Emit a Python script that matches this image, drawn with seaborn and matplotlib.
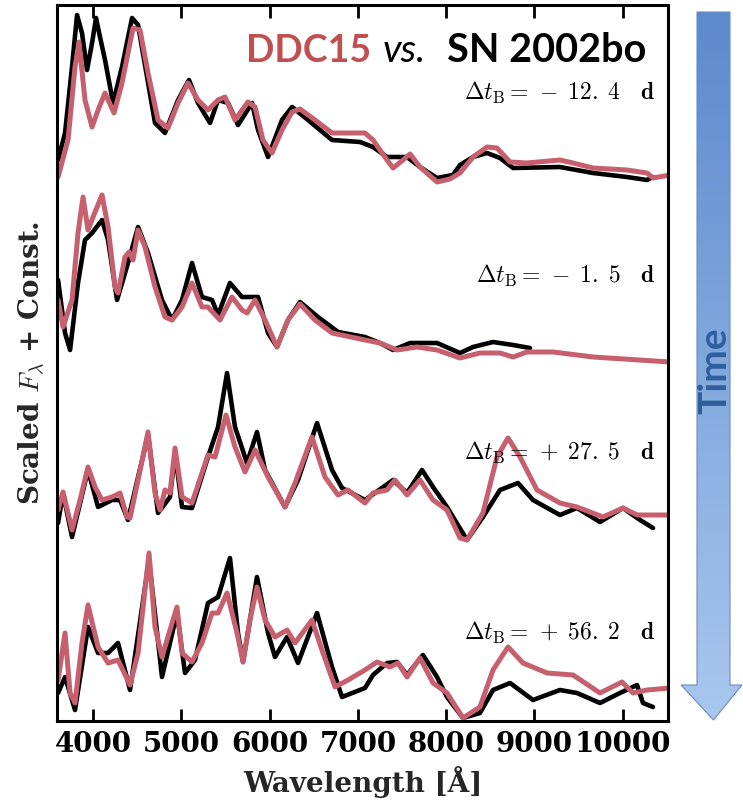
import numpy as np
import matplotlib
matplotlib.use("Agg")
import matplotlib.pyplot as plt
import seaborn as sns
from matplotlib.patches import Polygon
from matplotlib.colors import LinearSegmentedColormap

# ---------------- data (wavelength in Angstrom, scaled flux) ----------------
wave_obs_1 = [3604, 3683, 3762, 3819, 3875, 3932, 3989, 4034, 4079, 4136, 4227, 4328, 4442, 4510, 4612, 4702,
              4815, 4963, 5087, 5189, 5325, 5416, 5529, 5642, 5801, 5869, 5982, 6140, 6254, 6435, 6707, 7024,
              7171, 7330, 7556, 7703, 7896, 8077, 8156, 8304, 8462, 8609, 8757, 9288, 9663, 10047, 10274, 10342]
flux_obs_1 = [0.21, 0.48, 1.14, 1.66, 1.48, 1.11, 1.38, 1.63, 1.44, 1.21, 0.78, 1.14, 1.63, 1.56, 1.04, 0.58,
              0.48, 0.81, 1.01, 0.78, 0.58, 0.81, 0.78, 0.56, 0.78, 0.51, 0.24, 0.61, 0.74, 0.61, 0.41, 0.39,
              0.34, 0.24, 0.24, 0.14, 0.03, 0.06, 0.16, 0.24, 0.28, 0.23, 0.13, 0.14, 0.08, 0.04, 0.01, 0.04]
wave_mod_1 = [3604, 3717, 3796, 3841, 3909, 3989, 4057, 4136, 4238, 4328, 4453, 4532, 4623, 4736, 4849, 4963,
              5076, 5189, 5302, 5416, 5495, 5608, 5755, 5835, 5925, 6027, 6140, 6254, 6344, 6514, 6707, 6967,
              7080, 7171, 7330, 7398, 7511, 7590, 7703, 7896, 8043, 8156, 8304, 8462, 8575, 8723, 8915, 9288,
              9436, 9663, 10047, 10274, 10342, 10535]
flux_mod_1 = [0.04, 0.41, 1.14, 1.39, 0.81, 0.54, 0.71, 0.88, 0.68, 0.98, 1.53, 1.51, 1.08, 0.61, 0.53, 0.78,
              0.98, 0.81, 0.71, 0.81, 0.84, 0.61, 0.79, 0.74, 0.41, 0.28, 0.51, 0.69, 0.72, 0.61, 0.48, 0.48,
              0.48, 0.41, 0.21, 0.13, 0.21, 0.27, 0.14, -0.01, 0.02, 0.08, 0.24, 0.34, 0.33, 0.19, 0.18, 0.21,
              0.18, 0.13, 0.11, 0.08, 0.03, 0.06]

wave_obs_2 = [3604, 3683, 3740, 3830, 3909, 3989, 4102, 4170, 4272, 4396, 4510, 4623, 4781, 4895, 5008, 5121,
              5234, 5348, 5416, 5551, 5687, 5869, 5982, 6084, 6208, 6344, 6548, 6775, 7080, 7250, 7398, 7590,
              7896, 8156, 8304, 8530, 8757, 8949]
flux_obs_2 = [0.81, 0.28, 0.11, 0.78, 1.21, 1.28, 1.41, 1.21, 0.61, 0.98, 1.34, 1.08, 0.61, 0.41, 0.61, 0.98,
              0.64, 0.61, 0.46, 0.78, 0.64, 0.64, 0.28, 0.14, 0.41, 0.59, 0.44, 0.29, 0.24, 0.18, 0.11, 0.18,
              0.18, 0.08, 0.14, 0.19, 0.16, 0.13]
wave_mod_2 = [3604, 3660, 3762, 3830, 3887, 3943, 4000, 4102, 4170, 4249, 4283, 4362, 4408, 4453, 4510, 4589,
              4702, 4815, 4895, 5008, 5121, 5234, 5302, 5438, 5574, 5687, 5744, 5835, 5948, 6084, 6208, 6344,
              6514, 6707, 7080, 7250, 7443, 7669, 7896, 8156, 8382, 8609, 8757, 8915, 9209, 9663, 10535]
flux_mod_2 = [0.61, 0.34, 0.61, 1.28, 1.64, 1.31, 1.44, 1.66, 1.34, 0.74, 0.68, 1.04, 1.09, 1.01, 1.31, 1.14,
              0.74, 0.44, 0.41, 0.54, 0.78, 0.54, 0.54, 0.41, 0.64, 0.51, 0.48, 0.61, 0.41, 0.14, 0.41, 0.57,
              0.41, 0.28, 0.21, 0.18, 0.11, 0.14, 0.11, 0.03, 0.08, 0.08, 0.04, 0.09, 0.09, 0.04, -0.01]

wave_obs_3 = [3604, 3660, 3762, 3943, 4057, 4215, 4306, 4396, 4623, 4736, 4872, 4929, 5008, 5121, 5302, 5416,
              5518, 5608, 5744, 5857, 5948, 6174, 6322, 6537, 6707, 6820, 7080, 7398, 7556, 7726, 7851, 8009,
              8236, 8416, 8609, 8813, 8983, 9288, 9481, 9742, 10002, 10195, 10342]
flux_obs_3 = [0.38, 0.68, 0.24, 0.91, 0.54, 0.61, 0.61, 0.41, 1.26, 0.48, 0.64, 1.08, 0.54, 0.53, 1.04, 1.34,
              1.88, 1.34, 0.98, 1.29, 0.91, 0.54, 0.81, 1.38, 0.91, 0.73, 0.61, 0.81, 0.68, 0.91, 0.74, 0.54,
              0.21, 0.44, 0.71, 0.78, 0.61, 0.46, 0.53, 0.39, 0.53, 0.41, 0.33]
wave_mod_3 = [3604, 3660, 3762, 3853, 3943, 4023, 4102, 4215, 4306, 4385, 4419, 4510, 4623, 4702, 4759, 4815,
              4872, 4929, 5008, 5121, 5234, 5302, 5382, 5506, 5608, 5721, 5835, 5982, 6174, 6288, 6480, 6627,
              6775, 6888, 7080, 7171, 7330, 7420, 7556, 7703, 7851, 8009, 8156, 8236, 8416, 8575, 8700, 8836,
              9028, 9288, 9481, 9776, 10002, 10161, 10535]
flux_mod_3 = [0.51, 0.69, 0.31, 0.61, 0.94, 0.74, 0.61, 0.64, 0.68, 0.44, 0.43, 0.81, 1.29, 0.68, 0.51, 0.71,
              0.68, 1.13, 0.64, 0.58, 0.88, 1.06, 1.04, 1.46, 1.14, 0.89, 1.11, 0.84, 0.54, 0.78, 1.24, 0.84,
              0.66, 0.71, 0.58, 0.68, 0.71, 0.81, 0.66, 0.81, 0.61, 0.51, 0.23, 0.21, 0.48, 1.04, 1.23, 1.04,
              0.71, 0.58, 0.54, 0.44, 0.53, 0.46, 0.46]

wave_obs_4 = [3604, 3683, 3796, 3943, 4057, 4170, 4283, 4419, 4634, 4781, 4951, 5042, 5155, 5302, 5416, 5551,
              5642, 5699, 5857, 5982, 6061, 6197, 6322, 6537, 6707, 6820, 7080, 7171, 7330, 7443, 7556, 7737,
              7896, 8009, 8190, 8382, 8530, 8723, 8983, 9288, 9481, 9742, 9968, 10161, 10229, 10342]
flux_obs_4 = [0.28, 0.44, 0.11, 0.94, 0.68, 0.68, 0.78, 0.31, 1.61, 0.44, 1.08, 0.48, 0.61, 1.18, 1.24, 1.63,
              0.88, 0.59, 1.44, 0.88, 0.64, 0.84, 0.58, 1.08, 0.54, 0.24, 0.33, 0.46, 0.58, 0.59, 0.46, 0.66,
              0.44, 0.24, 0.03, 0.08, 0.31, 0.38, 0.21, 0.31, 0.28, 0.18, 0.28, 0.36, 0.18, 0.14]
wave_mod_4 = [3604, 3683, 3740, 3796, 3875, 3943, 4057, 4170, 4283, 4419, 4510, 4634, 4702, 4781, 4838, 4951,
              5008, 5121, 5234, 5348, 5416, 5518, 5631, 5699, 5778, 5857, 5948, 6061, 6197, 6288, 6480, 6593,
              6741, 6888, 7080, 7216, 7364, 7454, 7556, 7703, 7851, 8009, 8190, 8382, 8530, 8700, 8870, 9142,
              9436, 9742, 9991, 10115, 10274, 10535]
flux_mod_4 = [0.41, 0.88, 0.28, 0.18, 0.78, 1.16, 0.74, 0.58, 0.61, 0.36, 0.68, 1.68, 0.94, 0.64, 0.81, 1.14,
              0.68, 0.59, 0.78, 1.08, 1.08, 1.28, 0.88, 0.59, 1.01, 1.34, 1.01, 0.84, 0.91, 0.78, 1.01, 0.71,
              0.34, 0.41, 0.51, 0.59, 0.54, 0.58, 0.44, 0.63, 0.38, 0.28, 0.03, 0.14, 0.51, 0.74, 0.58, 0.48,
              0.46, 0.28, 0.39, 0.28, 0.31, 0.33]

offsets = [5.4, 3.6, 1.6, 0.0]
epoch_labels = [r"$\Delta t_{\rm B} = \,-\;12.\;4\quad\mathbf{d}$",
                r"$\Delta t_{\rm B} = \,-\;1.\;5\quad\mathbf{d}$",
                r"$\Delta t_{\rm B} = \,+\;27.\;5\quad\mathbf{d}$",
                r"$\Delta t_{\rm B} = \,+\;56.\;2\quad\mathbf{d}$"]
label_y = [6.21, 4.38, 2.61, 0.81]
xticks = [4000, 5000, 6000, 7000, 8000, 9000, 10000]

observed = [(wave_obs_1, flux_obs_1), (wave_obs_2, flux_obs_2), (wave_obs_3, flux_obs_3), (wave_obs_4, flux_obs_4)]
models = [(wave_mod_1, flux_mod_1), (wave_mod_2, flux_mod_2), (wave_mod_3, flux_mod_3), (wave_mod_4, flux_mod_4)]

# ---------------- style ----------------
sns.set_style("white")
plt.rcParams["mathtext.fontset"] = "cm"
PINK = "#c6606e"
TITLE_PINK = "#c0504f"

W, H = 743, 807
fig = plt.figure(figsize=(W / 100, H / 100), dpi=100)
ax = fig.add_axes([57 / W, 1 - 721 / H, (668 - 57) / W, (721 - 5) / H])

for (wo, fo), (wm, fm), off in zip(observed, models, offsets):
    sns.lineplot(x=np.array(wo), y=np.array(fo) + off, ax=ax, color="black", lw=3.3,
                 sort=False, estimator=None, solid_joinstyle="round", solid_capstyle="round")
    sns.lineplot(x=np.array(wm), y=np.array(fm) + off, ax=ax, color=PINK, lw=3.6,
                 sort=False, estimator=None, solid_joinstyle="round", solid_capstyle="round")

ax.set_xlim(3592, 10512)
ax.set_ylim(0, 7.16)
ax.set_xticks(xticks)
ax.set_xticklabels([str(t) for t in xticks], fontfamily="DejaVu Serif", fontweight="bold", fontsize=20)
ax.set_yticks([])
ax.tick_params(axis="x", direction="in", top=True, bottom=True, length=9, width=2,
               pad=7, colors="black")
for sp in ax.spines.values():
    sp.set_visible(True)
    sp.set_color("black")
    sp.set_linewidth(2.2)

ax.set_xlabel("Wavelength [Å]", fontfamily="DejaVu Serif", fontweight="bold", fontsize=20, labelpad=6)
ax.set_ylabel(r"Scaled $F_{\lambda}$ + Const.", fontfamily="DejaVu Serif", fontweight="bold",
              fontsize=20, labelpad=7)

for txt, yy in zip(epoch_labels, label_y):
    ax.text(10365, yy, txt, ha="right", va="baseline", fontsize=17, color="black")

# ---------------- overlay (title pieces + time arrow) ----------------
ov = fig.add_axes([0, 0, 1, 1], zorder=5)
ov.patch.set_alpha(0)
ov.set_axis_off()

ov.text(246, 62, "DDC15", fontfamily="Lato", fontweight="bold", fontsize=27, color=TITLE_PINK,
        ha="left", va="baseline")
ov.text(383, 62, "vs.", fontfamily="Lato", fontstyle="italic", fontsize=28, color="black",
        ha="left", va="baseline")
ov.text(447, 62, "SN 2002bo", fontfamily="Lato", fontweight="bold", fontsize=28.5, color="black",
        ha="left", va="baseline")

arrow_pts = [(697, 12), (730, 12), (730, 685), (742, 685), (713.5, 720), (681, 685), (697, 685)]
poly = Polygon(arrow_pts, closed=True, facecolor="none", edgecolor="#6a8cc2", lw=0.8, zorder=3)
ov.add_patch(poly)
cmap = LinearSegmentedColormap.from_list("arr", ["#5b8acd", "#a9c7ef"])
grad = np.linspace(0, 1, 256).reshape(-1, 1)
im = ov.imshow(grad, extent=[680, 743, 720, 12], cmap=cmap, aspect="auto", origin="upper", zorder=2)
im.set_clip_path(Polygon(arrow_pts, closed=True, transform=ov.transData))
ov.text(715, 371, "Time", rotation=90, fontfamily="Lato", fontweight="bold", fontsize=28,
        color="#2f5f9f", ha="center", va="center", zorder=4)
ov.set_xlim(0, W)
ov.set_ylim(H, 0)

fig.savefig("out.png", dpi=100)
